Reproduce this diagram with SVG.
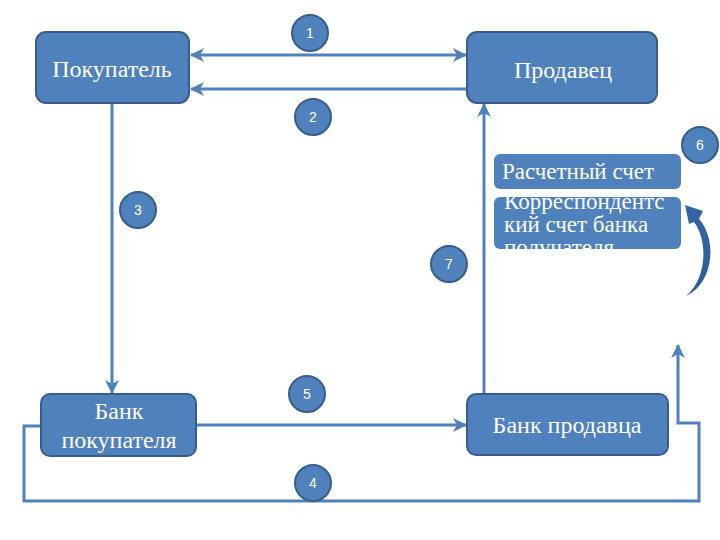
<svg xmlns="http://www.w3.org/2000/svg" width="720" height="540" viewBox="0 0 720 540">
<defs>
<marker id="ah" viewBox="0 0 14 14" refX="13" refY="7" markerWidth="14" markerHeight="14" markerUnits="userSpaceOnUse" orient="auto-start-reverse">
<path d="M0,0 L14,7 L0,14 L4,7 Z" fill="#4F81BD"/>
</marker>
<linearGradient id="cg" x1="0" y1="0" x2="0" y2="1">
<stop offset="0" stop-color="#3566A6"/>
<stop offset="1" stop-color="#2D5A94"/>
</linearGradient>
</defs>
<style>
.box{fill:#4F81BD;stroke:#385D8A;stroke-width:2}
.lbl{fill:#fff;font-size:24px;text-anchor:middle}
.lbl2{fill:#fff;font-size:23px}
.c{fill:#4F81BD;stroke:#385D8A;stroke-width:2}
.n{fill:#fff;font-size:14px;text-anchor:middle}
.ln{fill:none;stroke:#4F81BD;stroke-width:3}
</style>
<rect width="720" height="540" fill="#fff"/>
<g id="connectors">
<line class="ln" x1="191" y1="55" x2="466" y2="55" marker-start="url(#ah)" marker-end="url(#ah)"/>
<line class="ln" x1="467" y1="89" x2="191" y2="89" marker-end="url(#ah)"/>
<line class="ln" x1="112" y1="104" x2="112" y2="393" marker-end="url(#ah)"/>
<line class="ln" x1="484" y1="393" x2="484" y2="104" marker-end="url(#ah)"/>
<line class="ln" x1="196" y1="425" x2="466" y2="425" marker-end="url(#ah)"/>
<polyline class="ln" points="41,426 24,426 24,501 699,501 699,423 678,423 678,345" marker-end="url(#ah)"/>
<path d="M686,296 C713,284 718,240 699,219 L703,211 L685,205 L689,224 L694,222 C709,242 706,280 686,296 Z" fill="url(#cg)"/>
</g>
<g id="pokupatel" font-family="Liberation Serif, serif"><rect class="box" x="36" y="32" width="153" height="71" rx="10"/><text class="lbl" x="112" y="77">Покупатель</text></g>
<g id="prodavec" font-family="Liberation Serif, serif"><rect class="box" x="467" y="32" width="190" height="71" rx="10"/><text class="lbl" x="563" y="78">Продавец</text></g>
<g id="bank-pokupatelya" font-family="Liberation Serif, serif"><rect class="box" x="41" y="394" width="155" height="62" rx="9"/><text class="lbl" x="119" y="419">Банк</text><text class="lbl" x="119" y="448">покупателя</text></g>
<g id="bank-prodavca" font-family="Liberation Serif, serif"><rect class="box" x="467" y="394" width="201" height="61" rx="9"/><text class="lbl" x="567" y="433">Банк продавца</text></g>
<g id="raschetny" font-family="Liberation Serif, serif"><rect x="494" y="154" width="187" height="35" rx="6" fill="#4F81BD"/><text class="lbl2" x="502" y="179">Расчетный счет</text></g>
<g id="korr" font-family="Liberation Serif, serif"><rect x="494" y="197" width="187" height="52" rx="6" fill="#4F81BD"/><text class="lbl2" x="504" y="209">Корреспондентс</text><text class="lbl2" x="504" y="232">кий счет банка</text><text class="lbl2" x="504" y="255">получателя</text></g>
<g font-family="Liberation Sans, sans-serif">
<g id="n1"><circle class="c" cx="310" cy="33" r="18"/><text class="n" x="310" y="38">1</text></g>
<g id="n2"><circle class="c" cx="313" cy="117" r="18"/><text class="n" x="313" y="122">2</text></g>
<g id="n3"><circle class="c" cx="138" cy="210" r="18"/><text class="n" x="138" y="215">3</text></g>
<g id="n4"><circle class="c" cx="313" cy="483" r="18"/><text class="n" x="313" y="488">4</text></g>
<g id="n5"><circle class="c" cx="307" cy="394" r="18"/><text class="n" x="307" y="399">5</text></g>
<g id="n6"><circle class="c" cx="700" cy="145" r="18"/><text class="n" x="700" y="150">6</text></g>
<g id="n7"><circle class="c" cx="449" cy="264" r="18"/><text class="n" x="449" y="269">7</text></g>
</g>
</svg>
